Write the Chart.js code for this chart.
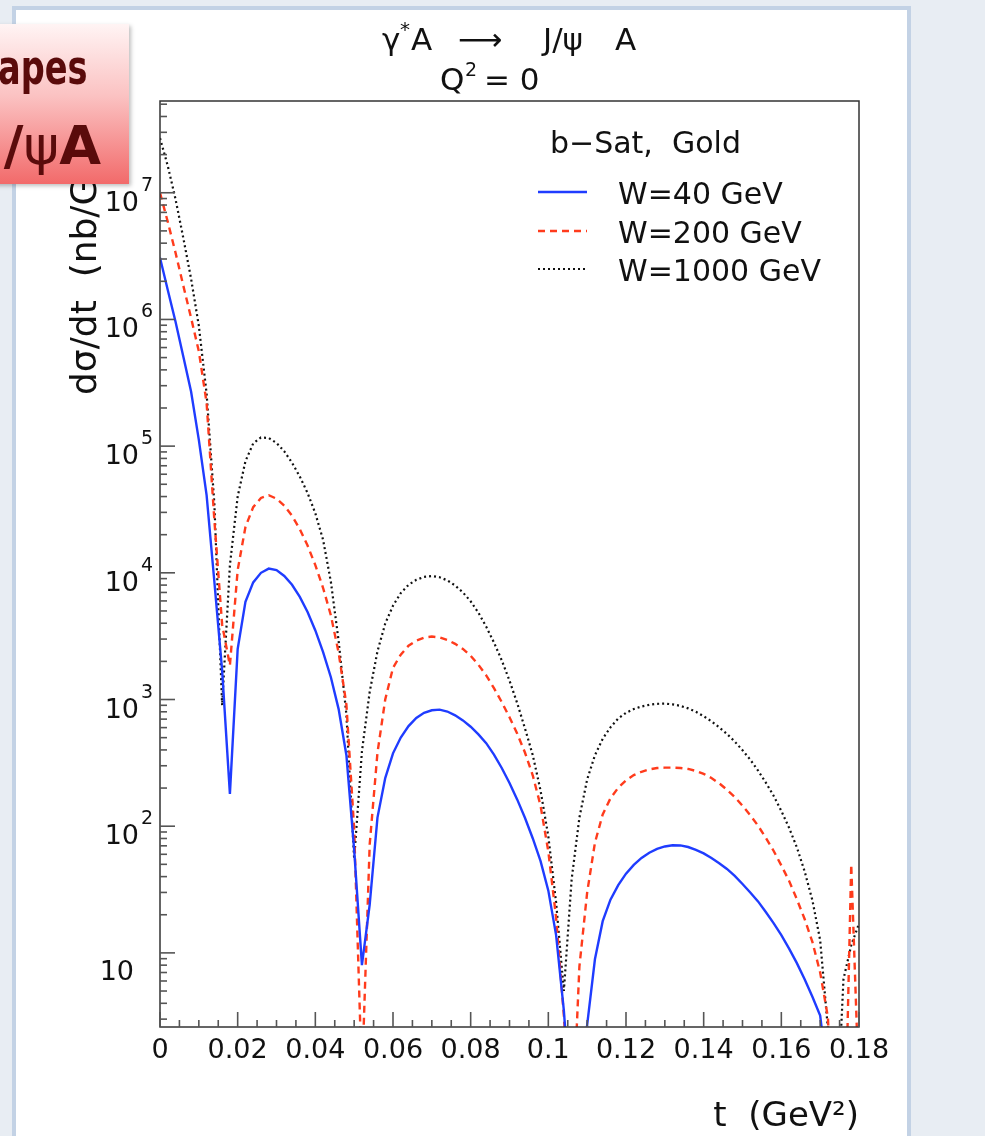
<!DOCTYPE html>
<html>
<head>
<meta charset="utf-8">
<title>J/psi A t-spectra</title>
<script src="https://cdn.jsdelivr.net/npm/chart.js@4.4.0/dist/chart.umd.min.js"></script>
<style>
  html, body { margin: 0; padding: 0; }
  body {
    width: 985px; height: 1136px; overflow: hidden; position: relative;
    background: #e8edf3;
    font-family: 'DejaVu Sans', sans-serif;
  }
  #panel {
    position: absolute; left: 12px; top: 6px; width: 899px; height: 1160px;
    box-sizing: border-box; background: #fff; border: 4px solid #c3d2e5;
  }
  #plot { position: absolute; left: 0; top: 0; }
  #tag {
    position: absolute; left: -90px; top: 24px; width: 219px; height: 160px;
    overflow: hidden;
    background: linear-gradient(#fff4f4 0%, #fbc2c2 45%, #f26a6a 100%);
    box-shadow: 2px 2px 4px rgba(0, 0, 0, 0.25);
  }
  #tag span {
    position: absolute; white-space: nowrap; color: #5a0b0b; font-weight: bold;
    transform-origin: right center; line-height: 1.164;
  }
  #tag .l1 { right: 41px; top: 16px; font-size: 48px; transform: scaleX(0.7); }
  #tag .l2 { right: 28px; top: 91px; font-size: 54px; }
  #tag .l2 i { font-style: normal; font-weight: normal; }
</style>
</head>
<body>
<div id="panel"></div>
<canvas id="plot" width="985" height="1136"></canvas>
<div id="tag"><span class="l1">Shapes</span><span class="l2">J/<i>ψ</i>A</span></div>
<script>
'use strict';
//momentum transfer grid, GeV^2
var tValues = [
  0, 0.002, 0.004, 0.006, 0.008, 0.01, 0.012, 0.014, 0.016, 0.018,
  0.02, 0.022, 0.024, 0.026, 0.028, 0.03, 0.032, 0.034, 0.036, 0.038,
  0.04, 0.042, 0.044, 0.046, 0.048, 0.05, 0.052, 0.054, 0.056, 0.058,
  0.06, 0.062, 0.064, 0.066, 0.068, 0.07, 0.072, 0.074, 0.076, 0.078,
  0.08, 0.082, 0.084, 0.086, 0.088, 0.09, 0.092, 0.094, 0.096, 0.098,
  0.1, 0.102, 0.104, 0.106, 0.108, 0.11, 0.112, 0.114, 0.116, 0.118,
  0.12, 0.122, 0.124, 0.126, 0.128, 0.13, 0.132, 0.134, 0.136, 0.138,
  0.14, 0.142, 0.144, 0.146, 0.148, 0.15, 0.152, 0.154, 0.156, 0.158,
  0.16, 0.162, 0.164, 0.166, 0.168, 0.17, 0.172, 0.174, 0.176, 0.178,
  0.18
];
//dsigma/dt in nb/GeV^2, b-Sat model, gold
var sigmaW40 = [
  3.07e6, 1.71e6, 9.6e5, 5.1e5, 2.7e5, 1.12e5, 4.1e4, 8.5e3, 1.7e3, 180,
  2500, 5900, 8400, 10000, 10800, 10500, 9440, 8040, 6460, 4900,
  3510, 2370, 1500, 840, 363, 65, 8, 24, 117, 240,
  376, 501, 617, 716, 785, 822, 832, 804, 750, 684,
  610, 531, 452, 367, 288, 219, 162, 116, 80, 53,
  31, 13.8, 3.5, 0.5, 0.5, 2.7, 8.9, 17.8, 26.3, 34.3,
  42.2, 49.5, 56.2, 61.7, 66.1, 69.2, 70.8, 70.5, 68.5, 65,
  61, 56, 51, 46, 40.5, 35, 30, 25.5, 21, 17.2,
  13.8, 10.8, 8.3, 6.2, 4.5, 3.2, 1, 0.5, 0.5, 0.8,
  1
];
var sigmaW200 = [
  1.0e7, 5.9e6, 3.36e6, 1.85e6, 1.03e6, 5.6e5, 2.2e5, 2.6e4, 3900, 1860,
  1.05e4, 2.3e4, 3.3e4, 3.9e4, 4.1e4, 3.85e4, 3.39e4, 2.82e4, 2.21e4, 1.64e4,
  1.15e4, 7590, 4620, 2340, 912, 95, 1, 72, 380, 1000,
  1780, 2260, 2660, 2920, 3080, 3140, 3090, 2950, 2750, 2510,
  2210, 1880, 1550, 1230, 955, 725, 537, 380, 251, 145,
  63, 19, 3.2, 0.3, 7.8, 30, 74, 124, 166, 201,
  230, 253, 269, 281, 288, 290, 290, 288, 283, 273,
  259, 240, 218, 194, 170, 145, 122, 101, 81, 64,
  49, 37, 26.5, 18.5, 12.2, 7, 3.1, 0.1, 0.1, 50,
  0.8
];
var sigmaW1000 = [
  2.7e7, 1.63e7, 8.9e6, 4.4e6, 2.1e6, 8.9e5, 2.6e5, 3.5e4, 900, 1.15e4,
  4.0e4, 7.6e4, 1.05e5, 1.17e5, 1.16e5, 1.06e5, 9.1e4, 7.4e4, 5.75e4, 4.27e4,
  2.95e4, 1.82e4, 8500, 2900, 760, 55, 390, 1150, 2400, 3980,
  5500, 6920, 8040, 8810, 9290, 9440, 9230, 8710, 7940, 7000,
  5960, 4840, 3760, 2820, 2040, 1410, 933, 589, 363, 191,
  83, 25, 5, 38, 117, 234, 363, 490, 603, 708,
  785, 841, 881, 908, 925, 929, 916, 891, 851, 800,
  738, 673, 603, 535, 466, 398, 335, 275, 221, 174,
  132, 97, 68, 44, 26, 12.6, 2.5, 0.3, 6.2, 11.5,
  17
];
var seriesNames = ['W=40 GeV', 'W=200 GeV', 'W=1000 GeV'];

//axis labels
var xTickValues = [0, 0.02, 0.04, 0.06, 0.08, 0.1, 0.12, 0.14, 0.16, 0.18];
var xTickLabels = ['0', '0.02', '0.04', '0.06', '0.08', '0.1', '0.12', '0.14', '0.16', '0.18'];
var yDecades = [1, 2, 3, 4, 5, 6, 7];

var BLUE = '#1f3cff';
var RED = '#ff3b1c';
var BLACK = '#111111';
var FONT = '"DejaVu Sans", sans-serif';

function toPoints(values){
  var pts = [];
  for(var i = 0; i < tValues.length; i++){
    pts.push({x: tValues[i], y: values[i]});
  }
  return pts;
}

function line(ctx, x1, y1, x2, y2){
  ctx.beginPath();
  ctx.moveTo(x1, y1);
  ctx.lineTo(x2, y2);
  ctx.stroke();
}

//frame, inward ticks, labels, legend and titles drawn over the curves
var rootFrame = {
  id: 'rootFrame',
  afterDraw: function(chart){
    var ctx = chart.ctx;
    var a = chart.chartArea;
    var xs = chart.scales.x;
    var ys = chart.scales.y;
    ctx.save();

    ctx.strokeStyle = '#333';
    ctx.lineWidth = 1.5;
    ctx.strokeRect(a.left, a.top, a.right - a.left, a.bottom - a.top);

    //x ticks: major every 0.02, minor every 0.005
    ctx.strokeStyle = '#555';
    ctx.lineWidth = 1.6;
    for(var k = 0; k <= 36; k++){
      var px = xs.getPixelForValue(k * 0.005);
      line(ctx, px, a.bottom, px, a.bottom - (k % 4 === 0 ? 15 : 7));
    }
    //y ticks: decades and 2..9 in between
    for(var e = 0; e <= 7; e++){
      for(var m = 1; m <= 9; m++){
        var v = m * Math.pow(10, e);
        if(v < ys.min || v > ys.max) continue;
        var py = ys.getPixelForValue(v);
        line(ctx, a.left, py, a.left + (m === 1 ? 15 : 7), py);
      }
    }

    ctx.fillStyle = '#111';
    ctx.textBaseline = 'alphabetic';

    //x tick labels
    ctx.font = '27px ' + FONT;
    ctx.textAlign = 'center';
    for(var i = 0; i < xTickValues.length; i++){
      ctx.fillText(xTickLabels[i], xs.getPixelForValue(xTickValues[i]), a.bottom + 31);
    }

    //y tick labels, 10 with exponent
    for(var j = 0; j < yDecades.length; j++){
      var yy = ys.getPixelForValue(Math.pow(10, yDecades[j]));
      ctx.font = '27px ' + FONT;
      ctx.textAlign = 'right';
      if(yDecades[j] === 1){
        ctx.fillText('10', 134, yy + 27);
      }else{
        ctx.fillText('10', 139, yy + 18);
        ctx.font = '19px ' + FONT;
        ctx.textAlign = 'left';
        ctx.fillText(String(yDecades[j]), 141, yy - 2);
      }
    }

    //axis titles
    ctx.font = '34px ' + FONT;
    ctx.textAlign = 'right';
    ctx.fillText('t  (GeV²)', a.right, 1126);
    ctx.save();
    ctx.translate(96, 395);
    ctx.rotate(-Math.PI / 2);
    ctx.font = '36px ' + FONT;
    ctx.textAlign = 'left';
    ctx.fillText('dσ/dt  (nb/GeV²)', 0, 0);
    ctx.restore();

    //process title
    ctx.font = '31px ' + FONT;
    ctx.textAlign = 'left';
    ctx.fillText('γ', 382, 50);
    ctx.font = '20px ' + FONT;
    ctx.fillText('*', 400, 36);
    ctx.font = '31px ' + FONT;
    ctx.fillText('A', 411, 50);
    ctx.fillText('⟶', 458, 50);
    ctx.fillText('J/ψ', 543, 50);
    ctx.fillText('A', 615, 50);
    ctx.fillText('Q', 440, 90);
    ctx.font = '19px ' + FONT;
    ctx.fillText('2', 465, 76);
    ctx.font = '31px ' + FONT;
    ctx.fillText('= 0', 484, 90);

    //legend
    ctx.font = '30px ' + FONT;
    ctx.fillText('b−Sat,  Gold', 550, 153);
    var ds = chart.data.datasets;
    var rowsY = [192, 231, 269];
    for(var r = 0; r < ds.length; r++){
      ctx.strokeStyle = ds[r].borderColor;
      ctx.lineWidth = ds[r].borderWidth;
      ctx.setLineDash(ds[r].borderDash || []);
      line(ctx, 538, rowsY[r], 587, rowsY[r]);
      ctx.setLineDash([]);
      ctx.fillText(ds[r].label, 618, rowsY[r] + 12);
    }
    ctx.restore();
  }
};

var ctx = document.getElementById('plot').getContext('2d');

new Chart(ctx, {
  type: 'line',
  data: {
    datasets: [
      {label: seriesNames[0], data: toPoints(sigmaW40), borderColor: BLUE, borderWidth: 2.4},
      {label: seriesNames[1], data: toPoints(sigmaW200), borderColor: RED, borderWidth: 2.4, borderDash: [7, 5]},
      {label: seriesNames[2], data: toPoints(sigmaW1000), borderColor: BLACK, borderWidth: 2.2, borderDash: [2, 3]}
    ]
  },
  options: {
    responsive: false,
    animation: false,
    devicePixelRatio: 1,
    layout: {padding: {left: 160, right: 126, top: 101, bottom: 109}},
    elements: {
      point: {radius: 0},
      line: {tension: 0, fill: false}
    },
    datasets: {line: {clip: 0}},
    plugins: {
      legend: {display: false},
      tooltip: {enabled: false}
    },
    scales: {
      x: {type: 'linear', min: 0, max: 0.18, display: false},
      y: {type: 'logarithmic', min: 2.6, max: 5.3e7, display: false}
    }
  },
  plugins: [rootFrame]
});
</script>
</body>
</html>
